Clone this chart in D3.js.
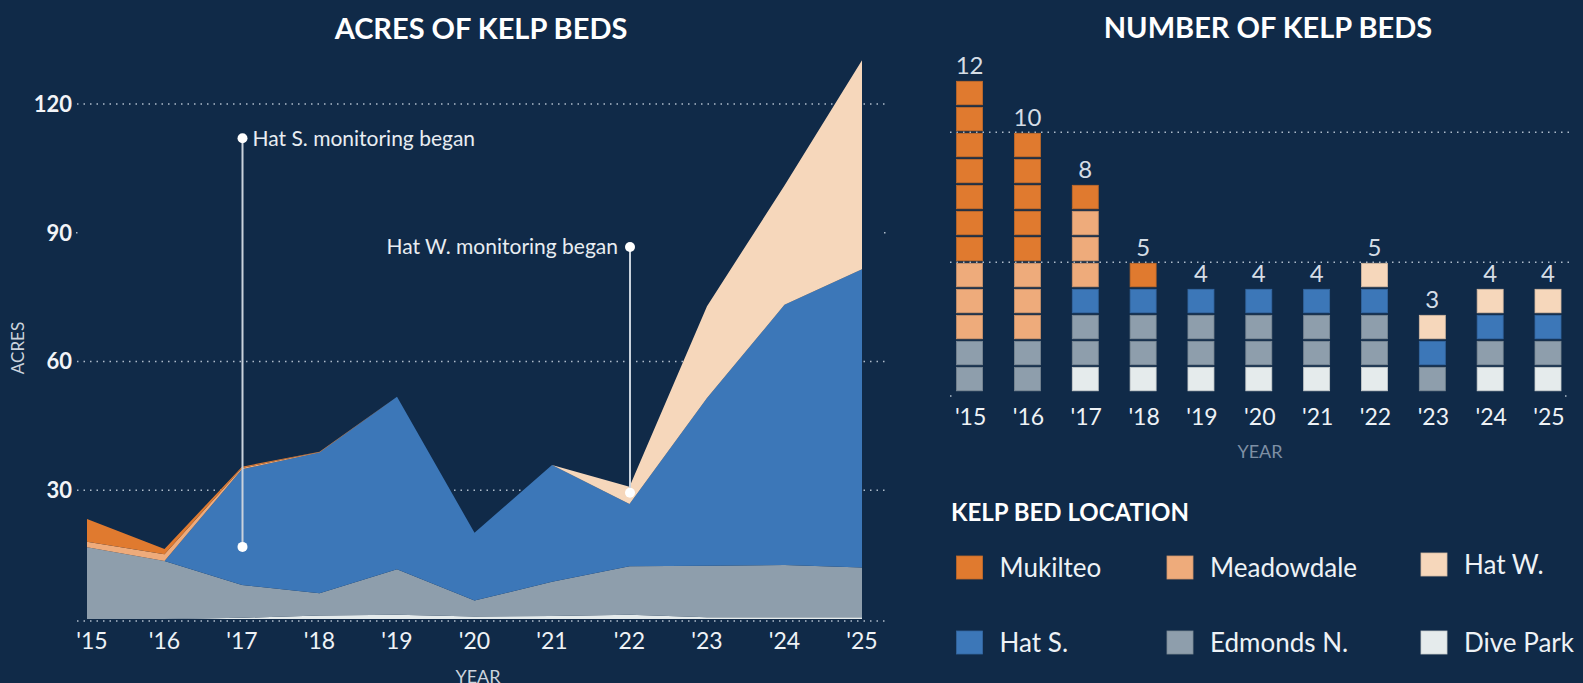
<!DOCTYPE html>
<html>
<head>
<meta charset="utf-8">
<script src="https://cdn.jsdelivr.net/npm/d3@7"></script>
<style>
  body { margin: 0; background: #102a48; }
  svg { display: block; font-family: Lato, "Open Sans", sans-serif; }
</style>
</head>
<body>
<script>
// DATA
const years = ["'15", "'16", "'17", "'18", "'19", "'20", "'21", "'22", "'23", "'24", "'25"];
const locations = ["Dive Park", "Edmonds N.", "Hat S.", "Hat W.", "Meadowdale", "Mukilteo"];
const legendOrder = ["Mukilteo", "Meadowdale", "Hat W.", "Hat S.", "Edmonds N.", "Dive Park"];

// acres per location
const acresDivePark  = [0, 0, 0.3, 0.8, 1.0, 0.6, 0.7, 1.0, 0.4, 0.4, 0.4];
const acresEdmondsN  = [16.7, 13.5, 7.6, 5.2, 10.6, 3.7, 8.0, 11.3, 12.0, 12.2, 11.6];
const acresHatS      = [0, 0, 27.0, 32.8, 40.2, 15.8, 27.2, 14.5, 39.1, 60.6, 69.5];
const acresHatW      = [0, 0, 0, 0, 0, 0, 0, 4.0, 21.4, 27.8, 48.7];
const acresMeadowdale = [1.3, 1.6, 0.3, 0.1, 0, 0, 0, 0, 0, 0, 0];
const acresMukilteo  = [5.3, 1.2, 0.3, 0.1, 0, 0, 0, 0, 0, 0, 0];

// number of beds per location
const bedsDivePark   = [0, 0, 1, 1, 1, 1, 1, 1, 0, 1, 1];
const bedsEdmondsN   = [2, 2, 2, 2, 2, 2, 2, 2, 1, 1, 1];
const bedsHatS       = [0, 0, 1, 1, 1, 1, 1, 1, 1, 1, 1];
const bedsHatW       = [0, 0, 0, 0, 0, 0, 0, 1, 1, 1, 1];
const bedsMeadowdale = [3, 3, 3, 0, 0, 0, 0, 0, 0, 0, 0];
const bedsMukilteo   = [7, 5, 1, 1, 0, 0, 0, 0, 0, 0, 0];

const acreTicks = [30, 60, 90, 120];
const bedTicks = [5, 10];

// annotation lines (year, low value, high value, label)
const notes = [
    {year: "'17", low: 16.8, high: 112, label: "Hat S. monitoring began", side: "right"},
    {year: "'22", low: 29.4, high: 86.7, label: "Hat W. monitoring began", side: "left"}
];

const colors = {
    "Mukilteo": "#e07a2f",
    "Meadowdale": "#eeab7b",
    "Hat W.": "#f6d7bb",
    "Hat S.": "#3c77b8",
    "Edmonds N.": "#8e9eac",
    "Dive Park": "#e5ebec"
};

// BUILD TABLES FOR THE STACKS
const acresTable = years.map((yr, i) => ({
    year: yr,
    "Dive Park": acresDivePark[i],
    "Edmonds N.": acresEdmondsN[i],
    "Hat S.": acresHatS[i],
    "Hat W.": acresHatW[i],
    "Meadowdale": acresMeadowdale[i],
    "Mukilteo": acresMukilteo[i]
}));
const bedsTable = years.map((yr, i) => ({
    year: yr,
    "Dive Park": bedsDivePark[i],
    "Edmonds N.": bedsEdmondsN[i],
    "Hat S.": bedsHatS[i],
    "Hat W.": bedsHatW[i],
    "Meadowdale": bedsMeadowdale[i],
    "Mukilteo": bedsMukilteo[i]
}));

const W = 1583, H = 683;
const svg = d3.select("body").append("svg")
    .attr("width", W)
    .attr("height", H);

svg.append("rect").attr("width", W).attr("height", H).attr("fill", "#102a48");

const dotted = sel => sel
    .attr("stroke", "#aebcca")
    .attr("stroke-width", 1.5)
    .attr("stroke-dasharray", "1.5 5");

// ---------- LEFT: ACRES OF KELP BEDS ----------
const x = d3.scalePoint().domain(years).range([87, 862]);
const y = d3.scaleLinear().domain([0, 120]).range([619, 104]);

svg.append("text")
    .attr("x", 481).attr("y", 39)
    .attr("text-anchor", "middle")
    .attr("font-size", 29).attr("font-weight", 700)
    .attr("fill", "#ffffff")
    .text("ACRES OF KELP BEDS");

// gridlines (90 only shows stubs in the original)
acreTicks.forEach(t => {
    if (t === 90) {
        svg.append("line").attr("x1", 76).attr("x2", 78).attr("y1", y(t)).attr("y2", y(t)).call(dotted);
        svg.append("line").attr("x1", 884).attr("x2", 886).attr("y1", y(t)).attr("y2", y(t)).call(dotted);
    } else {
        svg.append("line").attr("x1", 77).attr("x2", 888).attr("y1", y(t)).attr("y2", y(t)).call(dotted);
    }
});
svg.append("line").attr("x1", 77).attr("x2", 888).attr("y1", y(0) + 2).attr("y2", y(0) + 2).call(dotted);

// stacked areas
const acreStack = d3.stack().keys(locations)(acresTable);
const area = d3.area()
    .x(d => x(d.data.year))
    .y0(d => y(d[0]))
    .y1(d => y(d[1]));

svg.append("g").selectAll("path")
    .data(acreStack)
    .join("path")
    .attr("d", area)
    .attr("fill", d => colors[d.key]);

// y axis labels
svg.append("g").selectAll("text")
    .data(acreTicks)
    .join("text")
    .attr("x", 72).attr("y", d => y(d))
    .attr("dy", "0.36em")
    .attr("text-anchor", "end")
    .attr("font-size", 22).attr("font-weight", 700)
    .attr("fill", "#f2f4f7")
    .text(d => d);

// x axis labels
svg.append("g").selectAll("text")
    .data(years)
    .join("text")
    .attr("x", d => x(d) + (d === "'15" ? 5 : 0))
    .attr("y", 649)
    .attr("text-anchor", "middle")
    .attr("font-size", 23)
    .attr("fill", "#eef2f6")
    .text(d => d);

svg.append("text")
    .attr("x", 478).attr("y", 683)
    .attr("text-anchor", "middle")
    .attr("font-size", 18)
    .attr("fill", "#cbd3dd")
    .text("YEAR");

svg.append("text")
    .attr("transform", "translate(24, 348) rotate(-90)")
    .attr("text-anchor", "middle")
    .attr("font-size", 17)
    .attr("fill", "#cbd3dd")
    .text("ACRES");

// annotations
const noteG = svg.append("g");
notes.forEach(n => {
    const nx = x(n.year) + 0.5;
    noteG.append("line")
        .attr("x1", nx).attr("x2", nx)
        .attr("y1", y(n.high)).attr("y2", y(n.low))
        .attr("stroke", "#c9d2dc").attr("stroke-width", 2);
    [n.high, n.low].forEach(v => {
        noteG.append("circle")
            .attr("cx", nx).attr("cy", y(v)).attr("r", 5)
            .attr("fill", "#ffffff");
    });
    noteG.append("text")
        .attr("x", n.side === "right" ? nx + 10 : nx - 12)
        .attr("y", y(n.high))
        .attr("dy", "0.35em")
        .attr("text-anchor", n.side === "right" ? "start" : "end")
        .attr("font-size", 21)
        .attr("fill", "#e8edf2")
        .text(n.label);
});

// ---------- RIGHT: NUMBER OF KELP BEDS ----------
const xb = d3.scalePoint().domain(years).range([969.6, 1548]);
const yb = d3.scaleLinear().domain([0, 12]).range([392.3, 80.3]);
const sqW = 26;

svg.append("text")
    .attr("x", 1268).attr("y", 38)
    .attr("text-anchor", "middle")
    .attr("font-size", 29).attr("font-weight", 700)
    .attr("fill", "#ffffff")
    .text("NUMBER OF KELP BEDS");

bedTicks.forEach(t => {
    svg.append("line").attr("x1", 950).attr("x2", 1570).attr("y1", yb(t)).attr("y2", yb(t)).call(dotted);
});
[951, 1566].forEach(px => {
    svg.append("line").attr("x1", px - 1).attr("x2", px + 1).attr("y1", 396).attr("y2", 396).call(dotted);
});

// one square per kelp bed
const bedStack = d3.stack().keys(locations)(bedsTable);
const squares = [];
bedStack.forEach(layer => {
    layer.forEach(d => {
        for (let k = d[0]; k < d[1]; k++) {
            squares.push({year: d.data.year, level: k, key: layer.key});
        }
    });
});

svg.append("g").selectAll("rect")
    .data(squares)
    .join("rect")
    .attr("x", d => xb(d.year) - sqW / 2)
    .attr("y", d => yb(d.level + 1) + 1)
    .attr("width", sqW)
    .attr("height", d => yb(d.level) - yb(d.level + 1) - 2.5)
    .attr("fill", d => colors[d.key])
    .attr("stroke", d => d3.color(colors[d.key]).darker(0.4))
    .attr("stroke-width", 0.8);

// totals above bars
svg.append("g").selectAll("text")
    .data(bedsTable)
    .join("text")
    .attr("x", d => xb(d.year))
    .attr("y", d => yb(d3.sum(locations, k => d[k])) - 6)
    .attr("text-anchor", "middle")
    .attr("font-size", 24)
    .attr("fill", "#d5dde6")
    .text(d => d3.sum(locations, k => d[k]));

svg.append("g").selectAll("text")
    .data(years)
    .join("text")
    .attr("x", d => xb(d) + 1)
    .attr("y", 425)
    .attr("text-anchor", "middle")
    .attr("font-size", 23)
    .attr("fill", "#eef2f6")
    .text(d => d);

svg.append("text")
    .attr("x", 1260).attr("y", 458)
    .attr("text-anchor", "middle")
    .attr("font-size", 18)
    .attr("fill", "#7e8fa4")
    .text("YEAR");

// ---------- LEGEND ----------
svg.append("text")
    .attr("x", 951).attr("y", 521)
    .attr("font-size", 24).attr("font-weight", 700)
    .attr("fill", "#ffffff")
    .text("KELP BED LOCATION");

const legCols = [956.6, 1167, 1421];
const legRows = [556, 631];
const legend = svg.append("g").selectAll("g")
    .data(legendOrder)
    .join("g")
    .attr("transform", (d, i) => {
        const dy = (d === "Hat W.") ? -3 : 0;
        return `translate(${legCols[i % 3]}, ${legRows[Math.floor(i / 3)] + dy})`;
    });
legend.append("rect")
    .attr("width", 26).attr("height", 23)
    .attr("fill", d => colors[d])
    .attr("stroke", d => d3.color(colors[d]).darker(0.4))
    .attr("stroke-width", 0.8);
legend.append("text")
    .attr("x", 43).attr("y", 12)
    .attr("dy", "0.36em")
    .attr("font-size", 26)
    .attr("fill", "#eef2f6")
    .text(d => d);
</script>
</body>
</html>
